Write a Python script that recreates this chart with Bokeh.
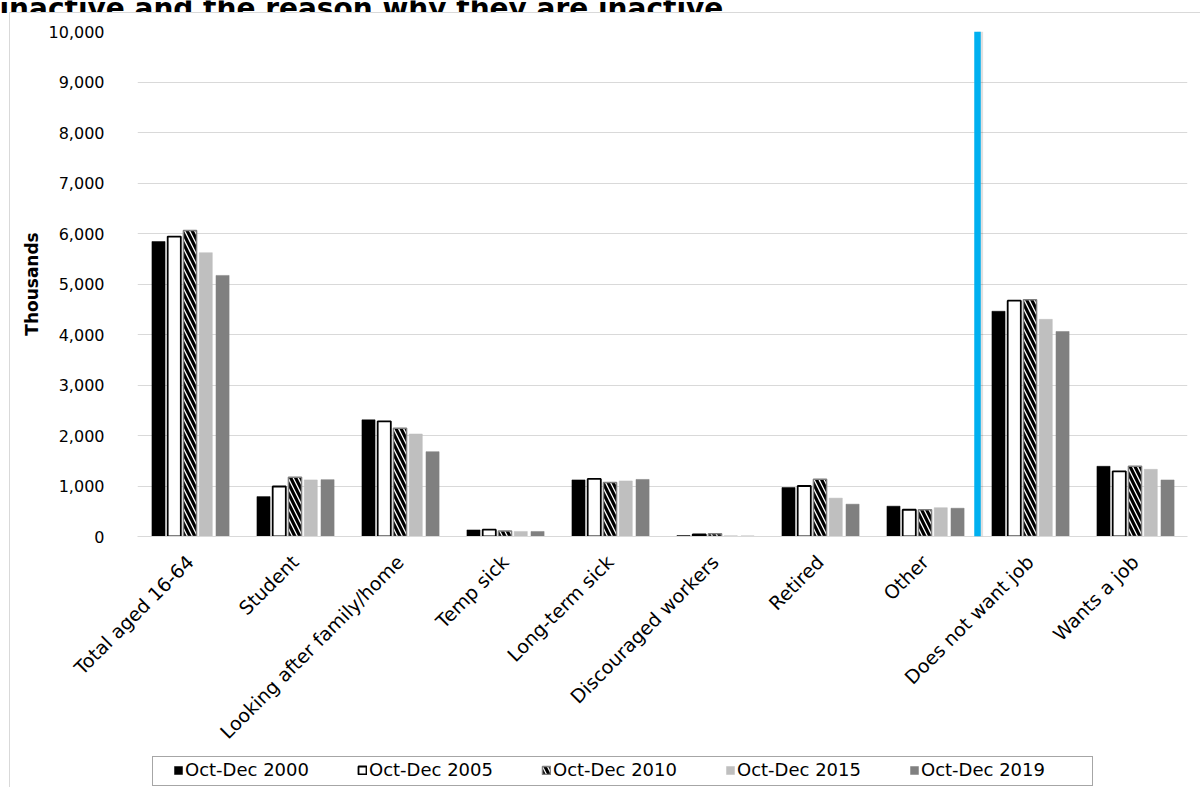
import math

from bokeh.embed import file_html
from bokeh.layouts import column
from bokeh.models import (ColumnDataSource, FixedTicker, InlineStyleSheet, Label, Legend,
                          LegendItem, NumeralTickFormatter, Range1d, Span)
from bokeh.plotting import figure
from bokeh.resources import INLINE
from bokeh.transform import dodge

# Economically inactive people aged 16-64 (thousands), by reason
categories = ["Total aged 16-64", "Student", "Looking after family/home", "Temp sick",
              "Long-term sick", "Discouraged workers", "Retired", "Other",
              "Does not want job", "Wants a job"]
series_names = ["Oct-Dec 2000", "Oct-Dec 2005", "Oct-Dec 2010", "Oct-Dec 2015", "Oct-Dec 2019"]
oct_dec_2000 = [5840, 790, 2310, 130, 1120, 20, 970, 600, 4460, 1390]
oct_dec_2005 = [5940, 990, 2280, 135, 1140, 40, 1000, 530, 4670, 1290]
oct_dec_2010 = [6060, 1175, 2145, 110, 1070, 55, 1135, 530, 4690, 1390]
oct_dec_2015 = [5620, 1120, 2030, 100, 1100, 15, 760, 570, 4300, 1330]
oct_dec_2019 = [5170, 1125, 1680, 100, 1130, 10, 640, 560, 4060, 1120]
y_ticks = list(range(0, 10001, 1000))

FONT = "DejaVu Sans"
W = 1200

cols = ["s2000", "s2005", "s2010", "s2015", "s2019"]
source = ColumnDataSource(data={"cat": categories})
for c, vals in zip(cols, [oct_dec_2000, oct_dec_2005, oct_dec_2010, oct_dec_2015, oct_dec_2019]):
    source.data[c] = vals

styles = [
    dict(fill_color="#000000", line_color="#000000", line_width=0.5),
    dict(fill_color="#ffffff", line_color="#000000", line_width=1.8),
    dict(fill_color="#ffffff", line_color="#7f7f7f", line_width=1.5,
         hatch_pattern="\\", hatch_color="#000000", hatch_weight=3.2, hatch_scale=10),
    dict(fill_color="#bfbfbf", line_color="#bfbfbf", line_width=0.5),
    dict(fill_color="#808080", line_color="#808080", line_width=0.5),
]
offsets = [-0.30, -0.15, 0.0, 0.15, 0.31]
bar_w = 0.125


def no_frame_align(f):
    try:
        f.frame_align = False
    except AttributeError:
        pass


def strip_figure(height, x_range):
    f = figure(width=W, height=height, x_range=x_range, y_range=Range1d(0, 1),
               output_backend="svg", toolbar_location=None,
               x_axis_location=None, y_axis_location=None, min_border=0)
    f.grid.visible = False
    f.outline_line_color = None
    f.background_fill_color = "white"
    f.border_fill_color = "white"
    no_frame_align(f)
    return f


# ---- title strip (only the foot of the last title line is on the page)
title_fig = strip_figure(13, Range1d(0, 1))
title_fig.add_layout(Label(x=-1, y=5.5, x_units="screen", y_units="screen",
                           text="inactive and the reason why they are inactive",
                           text_font=FONT, text_font_size="28px", text_font_style="bold",
                           text_color="#000000", text_baseline="alphabetic"))

# ---- main bar chart
p = figure(x_range=categories, y_range=Range1d(0, 10000),
           width=W, height=743, output_backend="svg", toolbar_location=None,
           min_border_left=137, min_border_right=13, min_border_top=18, min_border_bottom=220)
no_frame_align(p)
p.outline_line_color = None
p.background_fill_color = "white"
p.border_fill_color = "white"

p.xgrid.grid_line_color = None
p.ygrid.grid_line_color = "#d9d9d9"
p.ygrid.grid_line_width = 1

p.yaxis.ticker = FixedTicker(ticks=y_ticks)
p.yaxis.formatter = NumeralTickFormatter(format="0,0")
p.yaxis.axis_line_color = None
p.yaxis.major_tick_line_color = None
p.yaxis.minor_tick_line_color = None
p.yaxis.major_tick_out = 0
p.yaxis.major_label_standoff = 33
p.yaxis.major_label_text_font = FONT
p.yaxis.major_label_text_font_size = "16px"
p.yaxis.major_label_text_color = "#000000"
p.yaxis.axis_label = "Thousands"
p.yaxis.axis_label_text_font = FONT
p.yaxis.axis_label_text_font_size = "17px"
p.yaxis.axis_label_text_font_style = "bold"
p.yaxis.axis_label_text_color = "#000000"
p.yaxis.axis_label_standoff = 4

p.xaxis.axis_line_color = "#d9d9d9"
p.xaxis.axis_line_width = 1
p.xaxis.major_tick_line_color = None
p.xaxis.minor_tick_line_color = None
p.xaxis.major_tick_out = 0
p.xaxis.major_label_orientation = math.pi / 4
p.xaxis.major_label_standoff = 22
p.xaxis.major_label_text_font = FONT
p.xaxis.major_label_text_font_size = "19px"
p.xaxis.major_label_text_color = "#000000"

for c, off, st in zip(cols, offsets, styles):
    p.vbar(x=dodge("cat", off, range=p.x_range), top=c, width=bar_w, source=source, **st)

# separator between the reason categories and the want-a-job split
sep_at = categories.index("Does not want job")
p.add_layout(Span(location=sep_at + 0.025, dimension="height", line_color="#000000",
                  line_alpha=0.12, line_width=6))
p.add_layout(Span(location=sep_at, dimension="height", line_color="#00b0f0", line_width=6.5))

# ---- legend strip; its keys come from hidden copies of the bar series
legend_fig = strip_figure(31, categories)
key_renderers = []
for c, off, st in zip(cols, offsets, styles):
    r = legend_fig.vbar(x=dodge("cat", off, range=legend_fig.x_range), top=c, width=bar_w,
                        source=source, **st)
    r.visible = False
    key_renderers.append(r)
legend = Legend(items=[LegendItem(label=n, renderers=[r])
                       for n, r in zip(series_names, key_renderers)],
                orientation="horizontal", location=(173, 7), click_policy="none",
                glyph_width=10, glyph_height=10, label_standoff=2, spacing=0,
                label_width=172, label_height=20, padding=0, margin=0,
                border_line_color=None, background_fill_alpha=0, inactive_fill_alpha=0,
                label_text_font=FONT, label_text_font_size="18px", label_text_color="#000000")
legend_fig.add_layout(legend)

# chart-area border and legend frame, drawn as thin CSS boxes
frames_css = InlineStyleSheet(css="""
:host::before {
  content: ""; position: absolute; left: 9px; top: 12px; width: 1191px; height: 775px;
  border-left: 1px solid #d9d9d9; border-top: 1px solid #d9d9d9;
  box-sizing: border-box; pointer-events: none; z-index: 10;
}
:host::after {
  content: ""; position: absolute; left: 152px; top: 756px; width: 941px; height: 30px;
  border: 1px solid #a6a6a6; box-sizing: border-box; pointer-events: none; z-index: 10;
}
""")

page = column(title_fig, p, legend_fig, spacing=0, stylesheets=[frames_css])

open("out.html", "w").write(file_html(page, INLINE))
